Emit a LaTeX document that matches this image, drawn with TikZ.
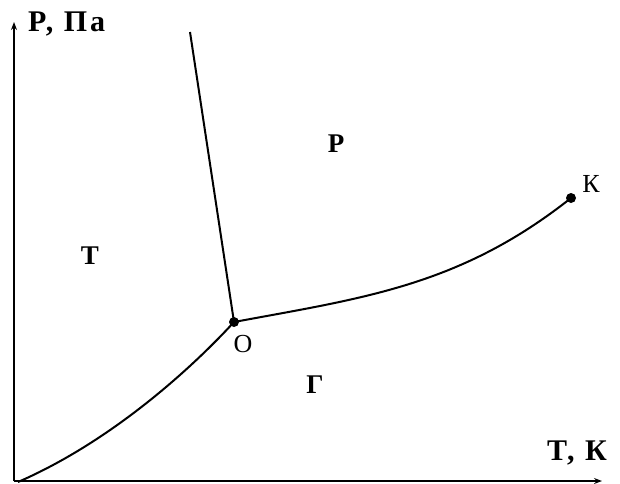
\documentclass[tikz,border=0pt]{standalone}
\usepackage{fontspec}
\setmainfont{Liberation Serif}
\newfontfamily\spacedfont[LetterSpace=10]{Liberation Serif}
\usetikzlibrary{arrows.meta}
\begin{document}
\begin{tikzpicture}[x=1pt,y=-1pt,
  curve/.style={line width=2pt},
  axis/.style={line width=1.4pt,-{Stealth[length=8pt,width=6pt]}},
  axlbl/.style={font=\spacedfont\fontsize{30}{30}\selectfont\bfseries, inner sep=0pt, anchor=base west},
  lbl/.style={font=\fontsize{27}{27}\selectfont\bfseries, inner sep=0pt, anchor=base},
  ptlbl/.style={font=\fontsize{26}{26}\selectfont, inner sep=0pt, anchor=base},
  dot/.style={circle,fill,inner sep=0pt,minimum size=10pt}]
\useasboundingbox (0,0) rectangle (620,483);
\coordinate (orig) at (14,481);
\coordinate (ytop) at (14,22);
\coordinate (xend) at (602,481);
\draw[axis] (orig) -- (ytop);
\draw[axis] (orig) -- (xend);
\node[dot] (O) at (234,322) {};
\node[dot] (K) at (571,198) {};
\coordinate (melt) at (190,32);
\coordinate (subst) at (18,482);
\draw[curve] (O.center) -- (melt);
\draw[curve] (subst) .. controls (110,442) and (190,370) .. (O.center);
\draw[curve] (O.center) .. controls (363,298) and (460,286) .. (K.center);
\node[axlbl] (ylab) at (28,31) {Р, Па};
\node[axlbl] (xlab) at (547,460) {Т, К};
\node[lbl] (solid) at (90,264) {Т};
\node[lbl] (liquid) at (336,152) {Р};
\node[lbl] (gas) at (315,393) {Г};
\node[ptlbl] (Olab) at (243,352) {О};
\node[ptlbl] (Klab) at (591,192) {К};
\end{tikzpicture}
\end{document}
